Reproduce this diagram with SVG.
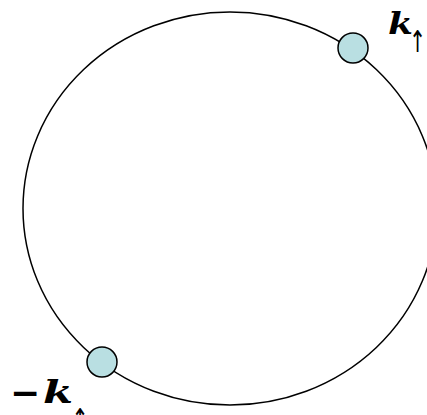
<svg xmlns="http://www.w3.org/2000/svg" width="427" height="415" viewBox="0 0 427 415">
<style>
.ring{fill:none;stroke:#000;stroke-width:1.5}
.pt{fill:#b9dfe2;stroke:#000;stroke-width:1.5}
.lbl{font-family:"DejaVu Serif","Liberation Serif",serif;fill:#000}
.k{font-weight:bold;font-style:italic}
.neg{font-family:"DejaVu Sans",sans-serif;font-weight:bold}
.sub{font-family:"DejaVu Sans",sans-serif;font-size:30px;font-weight:normal;font-style:normal;fill:#000}
</style>
<rect width="427" height="415" fill="#fff"/>
<g id="connectors">
<ellipse class="ring" cx="230" cy="208.5" rx="207" ry="196.5"/>
</g>
<g id="node-k">
<circle class="pt" cx="353" cy="48" r="15"/>
<text class="lbl" x="388" y="34" font-size="30"><tspan class="k" textLength="25" lengthAdjust="spacingAndGlyphs">k</tspan><tspan class="sub" x="409" y="52" textLength="17" lengthAdjust="spacingAndGlyphs">↑</tspan></text>
</g>
<g id="node-minus-k">
<circle class="pt" cx="102" cy="362" r="15"/>
<text class="lbl" x="10" y="405" font-size="36"><tspan class="neg">−</tspan><tspan class="k" x="43" font-size="31" y="403" textLength="30" lengthAdjust="spacingAndGlyphs">k</tspan><tspan class="sub" x="71.5" y="430" textLength="17" lengthAdjust="spacingAndGlyphs">↑</tspan></text>
</g>
</svg>
